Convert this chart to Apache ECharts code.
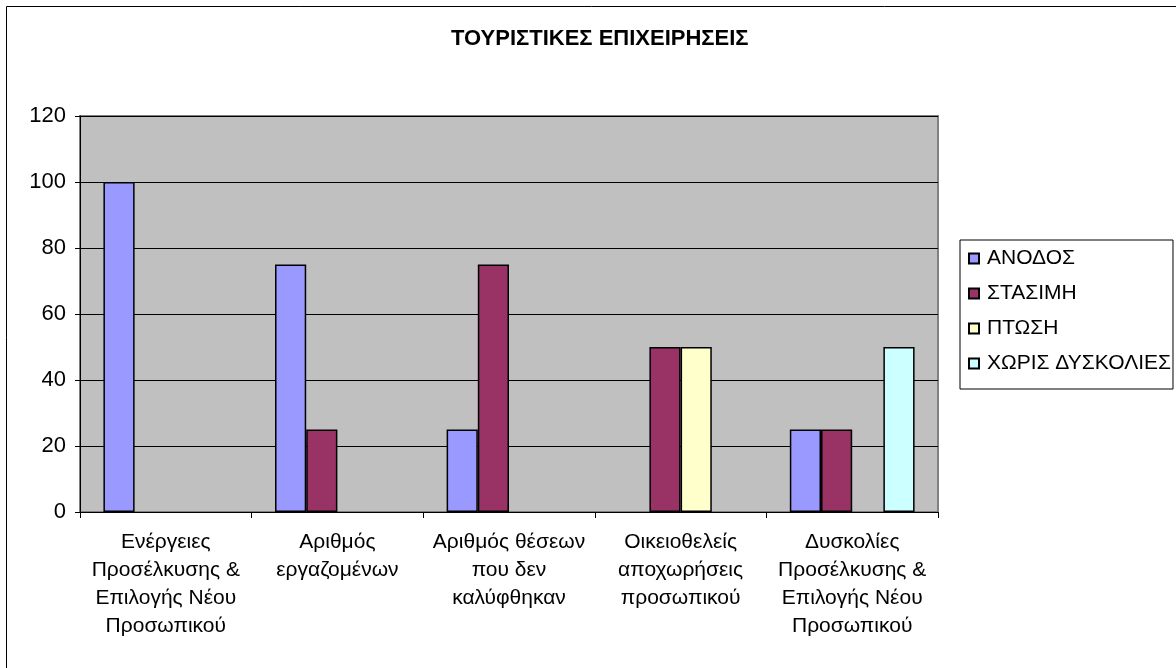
<!DOCTYPE html>
<html>
<head>
<meta charset="utf-8">
<script src="https://cdn.jsdelivr.net/npm/echarts@6/dist/echarts.min.js"></script>
<style>
html,body{margin:0;padding:0;background:#fff;}
#chart{width:1176px;height:668px;}
</style>
</head>
<body>
<div id="chart"></div>
<script>
const title = 'ΤΟΥΡΙΣΤΙΚΕΣ ΕΠΙΧΕΙΡΗΣΕΙΣ';
const categories = [
  'Ενέργειες\nΠροσέλκυσης &\nΕπιλογής Νέου\nΠροσωπικού',
  'Αριθμός\nεργαζομένων',
  'Αριθμός θέσεων\nπου δεν\nκαλύφθηκαν',
  'Οικειοθελείς\nαποχωρήσεις\nπροσωπικού',
  'Δυσκολίες\nΠροσέλκυσης &\nΕπιλογής Νέου\nΠροσωπικού'
];
const seriesNames = ['ΑΝΟΔΟΣ', 'ΣΤΑΣΙΜΗ', 'ΠΤΩΣΗ', 'ΧΩΡΙΣ ΔΥΣΚΟΛΙΕΣ'];
const anodos = [100, 75, 25, null, 25];
const stasimi = [null, 25, 75, 50, 25];
const ptosi = [null, null, null, 50, null];
const xorisDyskolies = [null, null, null, null, 50];
const seriesColors = ['#9999FF', '#993366', '#FFFFCC', '#CCFFFF'];

const seriesData = [anodos, stasimi, ptosi, xorisDyskolies];
const FONT = '"Liberation Sans", Arial, sans-serif';

const chart = echarts.init(document.getElementById('chart'), null, {renderer: 'canvas'});
chart.setOption({
  animation: false,
  backgroundColor: '#ffffff',
  textStyle: {fontFamily: FONT, color: '#000'},
  title: {
    text: title,
    left: 451,
    top: 28,
    padding: 0,
    textStyle: {fontFamily: FONT, fontSize: 22, fontWeight: 'bold', color: '#000'}
  },
  graphic: [{
    type: 'rect',
    shape: {x: 6.5, y: 6.5, width: 1400, height: 1000},
    style: {fill: 'none', stroke: '#000', lineWidth: 1},
    silent: true,
    z: 100
  }],
  legend: {
    orient: 'vertical',
    left: 960,
    top: 240,
    padding: [8, 2, 15, 8],
    borderColor: '#000',
    borderWidth: 1,
    itemWidth: 10,
    itemHeight: 10,
    itemGap: 14,
    icon: 'rect',
    data: seriesNames,
    textStyle: {fontFamily: FONT, fontSize: 21, lineHeight: 20, color: '#000', padding: [0, 0, 0, 3]}
  },
  grid: {
    left: 80, top: 116, right: 238, bottom: 156,
    show: true,
    backgroundColor: '#C0C0C0',
    borderColor: '#808080',
    borderWidth: 2,
    containLabel: false
  },
  xAxis: {
    type: 'category',
    data: categories,
    boundaryGap: true,
    axisLine: {lineStyle: {color: '#000', width: 1}},
    axisTick: {show: true, length: 6, lineStyle: {color: '#000'}},
    axisLabel: {
      interval: 0,
      margin: 16,
      fontFamily: FONT,
      fontSize: 21,
      lineHeight: 28,
      color: '#000',
      align: 'center'
    }
  },
  yAxis: {
    type: 'value',
    min: 0,
    max: 120,
    interval: 20,
    axisLine: {show: true, lineStyle: {color: '#000', width: 1}},
    axisTick: {show: true, length: 5, lineStyle: {color: '#000'}},
    axisLabel: {margin: 14, fontFamily: FONT, fontSize: 22, color: '#000'},
    splitLine: {show: true, lineStyle: {color: '#000', width: 1}}
  },
  series: seriesNames.map((name, i) => ({
    name: name,
    type: 'bar',
    data: seriesData[i],
    barGap: '0%',
    barCategoryGap: '27.3%',
    itemStyle: {color: seriesColors[i], borderColor: '#000', borderWidth: 1.5}
  }))
});
</script>
</body>
</html>
